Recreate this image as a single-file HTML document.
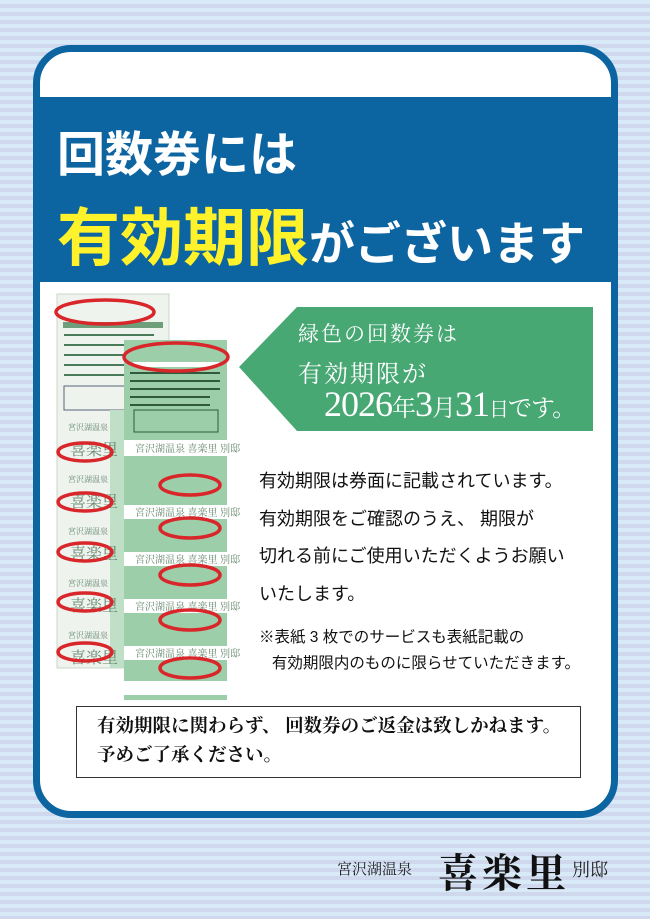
<!DOCTYPE html>
<html><head><meta charset="utf-8"><style>
*{margin:0;padding:0;box-sizing:border-box}
body{width:650px;height:919px;overflow:hidden;position:relative;background:repeating-linear-gradient(180deg,#d8e9f7 0,#d8e9f7 4px,#d0d8ee 4px,#d0d8ee 8px);font-family:"Liberation Sans","Noto Sans CJK JP",sans-serif}
.card{position:absolute;left:33px;top:45px;width:585px;height:773px;background:#fff;border:7px solid #0c64a0;border-radius:38px;overflow:hidden}
.band{position:absolute;left:0;top:45px;width:100%;height:185px;background:#0c64a0}
.t{position:absolute;white-space:nowrap;font-weight:bold}
.ab{position:absolute}
.mincho{font-family:"Liberation Serif","Noto Serif CJK SC",serif}
</style></head><body>
<div class="card"><div class="band"></div></div>
<div class="t" style="left:57px;top:115px;font-size:48px;color:#fff;">回数券には</div>
<div class="t" style="left:57px;top:188px;font-size:63px;color:#fff22a;">有効期限<span style="font-size:46px;color:#fff">がございます</span></div>

<svg class="ab" style="left:0;top:0" width="650" height="919">
<polygon points="239,367 297,307 593,307 593,431 297,431" fill="#48a874"/>
<!-- left strip -->
<rect x="57" y="294" width="112" height="374" fill="#eef3ee" stroke="#c9d6ca"/>
<rect x="63" y="322" width="100" height="6" fill="#6e9e7a"/>
<g fill="#4a7a5a">
<rect x="64" y="334" width="90" height="2"/><rect x="64" y="344" width="90" height="2"/><rect x="64" y="354" width="90" height="2"/><rect x="64" y="364" width="60" height="2"/><rect x="64" y="374" width="60" height="2"/></g>
<rect x="64" y="386" width="70" height="24" fill="none" stroke="#567" />
<g fill="#bfe0c7"><rect x="110" y="410" width="59" height="258"/></g>
<g fill="#6a8a72" font-family="Noto Serif CJK SC,serif">
<text x="68" y="430" font-size="8">宮沢湖温泉</text><text x="70" y="455" font-size="16">喜楽里</text>
<text x="68" y="482" font-size="8">宮沢湖温泉</text><text x="70" y="507" font-size="16">喜楽里</text>
<text x="68" y="534" font-size="8">宮沢湖温泉</text><text x="70" y="559" font-size="16">喜楽里</text>
<text x="68" y="586" font-size="8">宮沢湖温泉</text><text x="70" y="611" font-size="16">喜楽里</text>
<text x="68" y="638" font-size="8">宮沢湖温泉</text><text x="70" y="663" font-size="16">喜楽里</text></g>
<!-- right strip -->
<rect x="124" y="340" width="103" height="360" fill="#9ccfa9"/>
<rect x="133" y="362" width="86" height="5" fill="#fff"/>
<g fill="#2f5a3c"><rect x="130" y="372" width="90" height="2"/><rect x="130" y="380" width="90" height="2"/><rect x="130" y="388" width="90" height="2"/><rect x="130" y="396" width="80" height="2"/><rect x="130" y="404" width="80" height="2"/></g>
<rect x="134" y="410" width="84" height="22" fill="none" stroke="#2f5a3c"/>
<g fill="#fff"><rect x="124" y="440" width="103" height="16"/><rect x="124" y="505" width="103" height="14"/><rect x="124" y="552" width="103" height="14"/><rect x="124" y="599" width="103" height="14"/><rect x="124" y="646" width="103" height="14"/><rect x="124" y="681" width="103" height="14"/></g>
<g fill="#6a8a72" font-family="Noto Serif CJK SC,serif" font-size="10">
<text x="135" y="452">宮沢湖温泉 喜楽里 別邸</text><text x="135" y="516">宮沢湖温泉 喜楽里 別邸</text><text x="135" y="563">宮沢湖温泉 喜楽里 別邸</text><text x="135" y="610">宮沢湖温泉 喜楽里 別邸</text><text x="135" y="657">宮沢湖温泉 喜楽里 別邸</text></g>
<g fill="none" stroke="#d8262a" stroke-width="3.5">
<ellipse cx="105" cy="312" rx="49" ry="12"/><ellipse cx="176" cy="357" rx="52" ry="14"/>
<ellipse cx="85" cy="452" rx="27" ry="9"/><ellipse cx="85" cy="502" rx="27" ry="9"/><ellipse cx="85" cy="552" rx="27" ry="9"/><ellipse cx="85" cy="602" rx="27" ry="9"/><ellipse cx="85" cy="652" rx="27" ry="9"/>
<ellipse cx="190" cy="485" rx="30" ry="10"/><ellipse cx="190" cy="528" rx="30" ry="10"/><ellipse cx="190" cy="575" rx="30" ry="10"/><ellipse cx="190" cy="620" rx="30" ry="10"/><ellipse cx="190" cy="668" rx="30" ry="10"/></g>
</svg>

<div class="t mincho" style="left:298px;top:318px;font-size:21px;color:#fff;font-weight:normal;letter-spacing:2px">緑色の回数券は</div>
<div class="t mincho" style="left:298px;top:354px;font-size:24px;color:#fff;font-weight:normal;letter-spacing:2px">有効期限が</div>
<div class="t mincho" style="left:324px;top:383px;font-size:36px;color:#fff;font-weight:normal;letter-spacing:-1px">2026<span style="font-size:24px">年</span>3<span style="font-size:24px">月</span>31<span style="font-size:20px">日</span><span style="font-size:24px">です。</span></div>

<div class="ab" style="left:259px;top:463px;font-size:18px;line-height:37.5px;color:#111;white-space:nowrap">有効期限は券面に記載されています。<br>有効期限をご確認のうえ、 期限が<br>切れる前にご使用いただくようお願い<br>いたします。</div>
<div class="ab" style="left:259px;top:625px;font-size:15.5px;line-height:26px;color:#111;white-space:nowrap">※表紙 3 枚でのサービスも表紙記載の<br>&nbsp;&nbsp;&nbsp;有効期限内のものに限らせていただきます。</div>

<div class="ab mincho" style="left:76px;top:706px;width:505px;height:72px;background:#fff;border:1.5px solid #333;padding:6px 0 0 20px;font-size:18.5px;line-height:29px;color:#111;white-space:nowrap;font-weight:bold">有効期限に関わらず、 回数券のご返金は致しかねます。<br>予めご了承ください。</div>

<div class="ab mincho" style="left:337px;top:858px;font-size:15px;color:#222;white-space:nowrap">宮沢湖温泉</div>
<div class="ab mincho" style="left:438px;top:842px;font-size:40px;color:#111;white-space:nowrap;letter-spacing:4px;font-weight:bold">喜楽里</div>
<div class="ab mincho" style="left:572px;top:856px;font-size:18px;color:#222;white-space:nowrap">別邸</div>
</body></html>
